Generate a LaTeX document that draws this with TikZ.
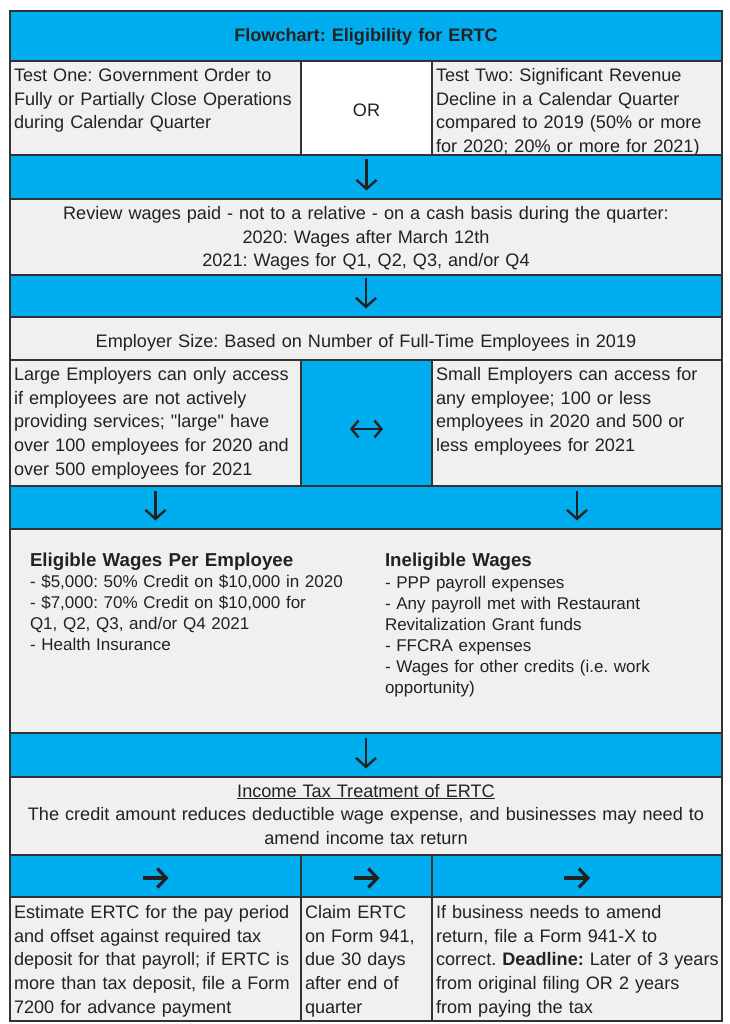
\documentclass[tikz,border=0pt]{standalone}
\usepackage{fontspec}
\setmainfont{Liberation Sans}[Ligatures=TeXOff]
\usetikzlibrary{arrows.meta}
\definecolor{cyanband}{HTML}{00AEEF}
\definecolor{cellgrey}{HTML}{F0F0F0}
\definecolor{linecol}{HTML}{333333}
\definecolor{txtcol}{HTML}{222222}
\newcommand\mainsz{\fontsize{18.1}{23.7}\selectfont}
\newcommand\eligsz{\fontsize{17.0}{21}\selectfont}
\newcommand\headsz{\fontsize{18.7}{21}\selectfont\bfseries}
\frenchspacing
\begin{document}
\frenchspacing
\begin{tikzpicture}[x=1pt,y=-1pt,
 cellbox/.style={draw=linecol, line width=1.4pt, inner sep=0pt, outer sep=0pt, anchor=north west, fill=cellgrey},
 band/.style={cellbox, fill=cyanband},
 whitebox/.style={cellbox, fill=white},
 txt/.style={inner sep=0pt, outer sep=0pt, text=txtcol, font=\mainsz\frenchspacing, align=left, text width=300pt, anchor=base west},
 ctxt/.style={inner sep=0pt, outer sep=0pt, text=txtcol, font=\mainsz\frenchspacing, align=center, text width=700pt, anchor=base},
 dnarrow/.style={draw=txtcol, line width=2.4pt, -{Straight Barb[length=9pt,width=20pt]}, shorten <=4.5pt, shorten >=8.5pt},
 rtarrow/.style={draw=txtcol, line width=3.2pt, -{Straight Barb[length=9pt,width=19pt]}},
 lrarrow/.style={draw=txtcol, line width=2.4pt, {Straight Barb[length=7pt,width=17pt]}-{Straight Barb[length=7pt,width=17pt]}}
]
\useasboundingbox (0,0) rectangle (729,1024);
\fill[white] (0,0) rectangle (729,1024);
% Row 1 title
\node[band, minimum width=712pt, minimum height=50pt] (title) at (10,11) {};
\node[ctxt, font=\mainsz\bfseries\frenchspacing] (titletxt) at (366,42) {Flowchart: Eligibility for ERTC};
% Row 2 tests
\node[cellbox, minimum width=291pt, minimum height=94pt] (test1) at (10,61) {};
\node[whitebox, minimum width=131pt, minimum height=94pt] (orcell) at (301,61) {};
\node[cellbox, minimum width=290pt, minimum height=94pt] (test2) at (432,61) {};
\node[txt] (test1txt) at (14,81.5) {Test One: Government Order to\\Fully or Partially Close Operations\\during Calendar Quarter};
\node[ctxt, text width=120pt] (ortxt) at (366.5,116.7) {OR};
\node[txt] (test2txt) at (436,81.5) {Test Two: Significant Revenue\\Decline in a Calendar Quarter\\compared to 2019 (50\% or more\\for 2020; 20\% or more for 2021)};
% Row 3 band
\node[band, minimum width=712pt, minimum height=44pt] (band1) at (10,155) {};
% Row 4 review
\node[cellbox, minimum width=712pt, minimum height=76pt] (review) at (10,199) {};
\node[ctxt] (reviewtxt) at (366,219.5) {Review wages paid - not to a relative - on a cash basis during the quarter:\\2020: Wages after March 12th\\2021: Wages for Q1, Q2, Q3, and/or Q4};
% Row 5 band
\node[band, minimum width=712pt, minimum height=42pt] (band2) at (10,275) {};
% Row 6 employer
\node[cellbox, minimum width=712pt, minimum height=43pt] (employer) at (10,317) {};
\node[ctxt] (employertxt) at (366,347) {Employer Size: Based on Number of Full-Time Employees in 2019};
% Row 7 large / small
\node[cellbox, minimum width=291pt, minimum height=126pt] (large) at (10,360) {};
\node[band, minimum width=131pt, minimum height=126pt] (sizemid) at (301,360) {};
\node[cellbox, minimum width=290pt, minimum height=126pt] (small) at (432,360) {};
\node[txt] (largetxt) at (14,380.5) {Large Employers can only access\\if employees are not actively\\providing services; "large" have\\over 100 employees for 2020 and\\over 500 employees for 2021};
\node[txt] (smalltxt) at (436,380.5) {Small Employers can access for\\any employee; 100 or less\\employees in 2020 and 500 or\\less employees for 2021};
% Row 8 band
\node[band, minimum width=712pt, minimum height=43pt] (band3) at (10,486) {};
% Row 9 eligible
\node[cellbox, minimum width=712pt, minimum height=204pt] (elig) at (10,529) {};
\node[txt, font=\headsz\frenchspacing, text width=340pt] (eligh) at (30,566.7) {Eligible Wages Per Employee};
\node[txt, font=\eligsz\frenchspacing, text width=340pt] (eligb) at (30,587) {- \$5,000: 50\% Credit on \$10,000 in 2020\\- \$7,000: 70\% Credit on \$10,000 for\\Q1, Q2, Q3, and/or Q4 2021\\- Health Insurance};
\node[txt, font=\headsz\frenchspacing] (inelh) at (385,566.7) {Ineligible Wages};
\node[txt, font=\eligsz\frenchspacing] (inelb) at (385,588) {- PPP payroll expenses\\- Any payroll met with Restaurant\\Revitalization Grant funds\\- FFCRA expenses\\- Wages for other credits (i.e. work\\opportunity)};
% Row 10 band
\node[band, minimum width=712pt, minimum height=44pt] (band4) at (10,733) {};
% Row 11 income tax
\node[cellbox, minimum width=712pt, minimum height=78pt] (income) at (10,777) {};
\node[ctxt] (incometxt) at (366,797) {\underline{Income Tax Treatment of ERTC}\\The credit amount reduces deductible wage expense, and businesses may need to\\amend income tax return};
% Row 12 bands
\node[band, minimum width=291pt, minimum height=42pt] (arrA) at (10,855) {};
\node[band, minimum width=131pt, minimum height=42pt] (arrB) at (301,855) {};
\node[band, minimum width=290pt, minimum height=42pt] (arrC) at (432,855) {};
% Row 13 bottom
\node[cellbox, minimum width=291pt, minimum height=124pt] (est) at (10,897) {};
\node[cellbox, minimum width=131pt, minimum height=124pt] (claim) at (301,897) {};
\node[cellbox, minimum width=290pt, minimum height=124pt] (amend) at (432,897) {};
\node[txt] (esttxt) at (14,918.5) {Estimate ERTC for the pay period\\and offset against required tax\\deposit for that payroll; if ERTC is\\more than tax deposit, file a Form\\7200 for advance payment};
\node[txt] (claimtxt) at (305,918.5) {Claim ERTC\\on Form 941,\\due 30 days\\after end of\\quarter};
\node[txt] (amendtxt) at (436,918.5) {If business needs to amend\\return, file a Form 941-X to\\correct. \textbf{Deadline:} Later of 3 years\\from original filing OR 2 years\\from paying the tax};
% Arrows
\draw[dnarrow] (orcell.south) -- (orcell.south |- review.north);
\draw[dnarrow, shorten <=3pt] (review.south) -- (employer.north);
\draw[dnarrow] (large.south) -- (large.south |- elig.north);
\draw[dnarrow] (small.south) -- (small.south |- elig.north);
\draw[dnarrow] (elig.south) -- (income.north);
\draw[lrarrow, shorten <=49pt, shorten >=49pt] ([yshift=-6pt]large.east) -- ([yshift=-6pt]small.west);
\draw[rtarrow] ([xshift=-13pt,yshift=-2pt]arrA.center) -- ([xshift=13pt,yshift=-2pt]arrA.center);
\draw[rtarrow] ([xshift=-13pt,yshift=-2pt]arrB.center) -- ([xshift=13pt,yshift=-2pt]arrB.center);
\draw[rtarrow] ([xshift=-13pt,yshift=-2pt]arrC.center) -- ([xshift=13pt,yshift=-2pt]arrC.center);
\end{tikzpicture}
\end{document}
